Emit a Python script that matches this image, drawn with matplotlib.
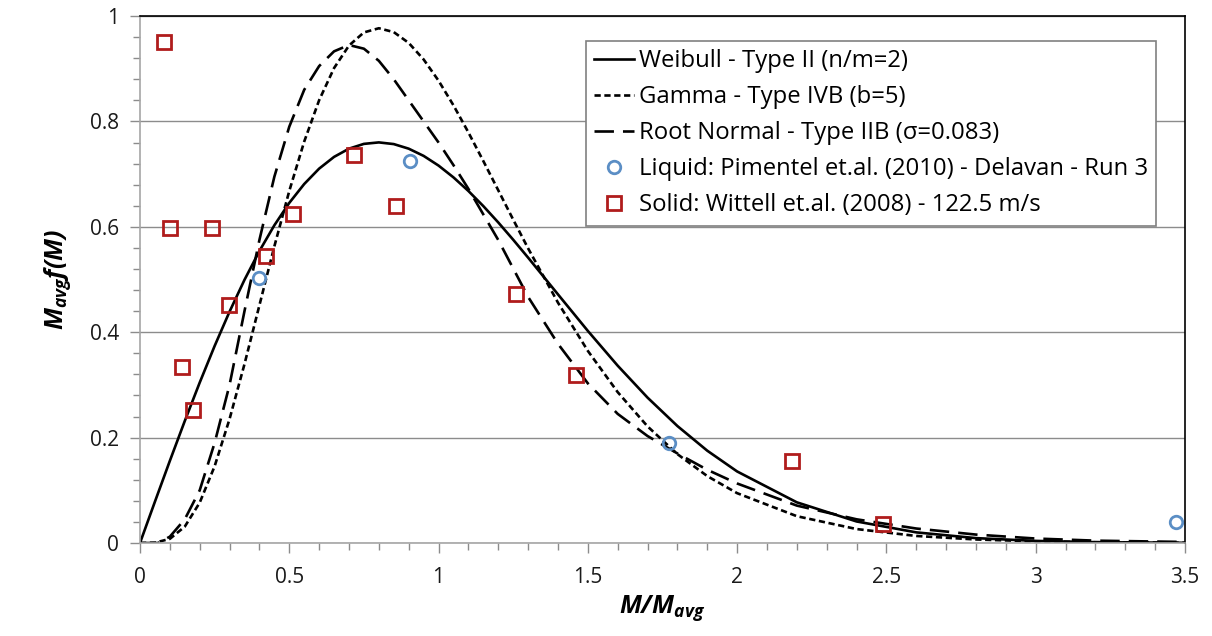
import matplotlib
matplotlib.use('Agg')
import matplotlib.pyplot as plt
from matplotlib.ticker import MultipleLocator

plt.rcParams['font.family'] = ['Open Sans', 'DejaVu Sans']
plt.rcParams['mathtext.fontset'] = 'custom'
plt.rcParams['mathtext.bfit'] = 'Open Sans:bold:italic'
plt.rcParams['mathtext.it'] = 'Open Sans:italic'
plt.rcParams['mathtext.rm'] = 'Open Sans'
plt.rcParams['lines.scale_dashes'] = False

# model curves (x = M/Mavg, y = Mavg f(M))
x_fit = [0, 0.05, 0.1, 0.15, 0.2, 0.25, 0.3, 0.35, 0.4, 0.45, 0.5, 0.55, 0.6, 0.65,
         0.7, 0.75, 0.8, 0.85, 0.9, 0.95, 1.0, 1.05, 1.1, 1.15, 1.2, 1.25, 1.3, 1.4,
         1.5, 1.6, 1.7, 1.8, 1.9, 2.0, 2.2, 2.4, 2.6, 2.8, 3.0, 3.2, 3.5]
weibull = [0, 0.0784, 0.1559, 0.2315, 0.3044, 0.3739, 0.4391, 0.4994, 0.5541, 0.6029,
           0.6454, 0.6812, 0.7104, 0.7327, 0.7483, 0.7574, 0.7602, 0.7570, 0.7483, 0.7346,
           0.7162, 0.6938, 0.6680, 0.6393, 0.6083, 0.5755, 0.5415, 0.4718, 0.4025, 0.3365,
           0.2759, 0.2220, 0.1752, 0.1358, 0.0772, 0.0409, 0.0202, 0.0093, 0.0040, 0.0016,
           0.0004]
gamma = [0, 0.0006, 0.0079, 0.0311, 0.0766, 0.1457, 0.2353, 0.3395, 0.4511, 0.5628,
         0.6680, 0.7617, 0.8402, 0.9012, 0.9440, 0.9689, 0.9768, 0.9695, 0.9490, 0.9176,
         0.8773, 0.8305, 0.7791, 0.7248, 0.6693, 0.6137, 0.5591, 0.4561, 0.3646, 0.2863,
         0.2213, 0.1687, 0.1270, 0.0946, 0.0509, 0.0265, 0.0134, 0.0067, 0.0032, 0.0015,
         0.0005]

x_rn = [0, 0.06, 0.1, 0.15, 0.2, 0.25, 0.3, 0.35, 0.4, 0.45, 0.5, 0.55, 0.6, 0.65, 0.7,
        0.75, 0.8, 0.85, 0.9, 0.95, 1.0, 1.05, 1.1, 1.2, 1.3, 1.4, 1.5, 1.6, 1.7, 1.8,
        1.9, 2.0, 2.2, 2.4, 2.6, 2.8, 3.0, 3.2, 3.5]
root_normal = [0, 0, 0.012, 0.045, 0.10, 0.19, 0.30, 0.44, 0.575, 0.695, 0.79, 0.86,
               0.905, 0.933, 0.945, 0.938, 0.915, 0.88, 0.84, 0.80, 0.76, 0.717, 0.672,
               0.575, 0.467, 0.378, 0.303, 0.245, 0.203, 0.170, 0.139, 0.113, 0.071,
               0.045, 0.0275, 0.016, 0.0085, 0.0045, 0.002]

# measurements
liquid_x = [0.400, 0.904, 1.773, 3.47]
liquid_y = [0.502, 0.724, 0.190, 0.040]

solid_x = [0.079, 0.100, 0.140, 0.177, 0.242, 0.298, 0.422, 0.511, 0.717, 0.856,
           1.261, 1.460, 2.183, 2.487]
solid_y = [0.951, 0.597, 0.334, 0.253, 0.597, 0.452, 0.545, 0.624, 0.736, 0.640,
           0.473, 0.319, 0.156, 0.037]

labels = ['Weibull - Type II (n/m=2)', 'Gamma - Type IVB (b=5)',
          'Root Normal - Type IIB (\u03c3=0.083)',
          'Liquid: Pimentel et.al. (2010) - Delavan - Run 3',
          'Solid: Wittell et.al. (2008) - 122.5 m/s']

xticks = [0, 0.5, 1, 1.5, 2, 2.5, 3, 3.5]
xticklabels = ['0', '0.5', '1', '1.5', '2', '2.5', '3', '3.5']
yticks = [0, 0.2, 0.4, 0.6, 0.8, 1.0]
yticklabels = ['0', '0.2', '0.4', '0.6', '0.8', '1']

fig = plt.figure(figsize=(12.12, 6.36), dpi=100)
ax = fig.add_axes([0.1155, 0.1462, 0.8622, 0.8286])

ax.plot(x_fit, weibull, color='black', lw=1.9, label=labels[0])
ax.plot(x_fit, gamma, color='black', lw=1.9, dashes=(4.5, 2.6), label=labels[1])
ax.plot(x_rn, root_normal, color='black', lw=1.9, dashes=(14, 6.5), label=labels[2])
ax.plot(liquid_x, liquid_y, ls='none', marker='o', ms=9, mfc='none', mec='#5b8ec5',
        mew=2, label=labels[3])
ax.plot(solid_x, solid_y, ls='none', marker='s', ms=10, mfc='none', mec='#b01c1c',
        mew=2, label=labels[4])

ax.set_xlim(0, 3.5)
ax.set_ylim(0, 1)
ax.set_xticks(xticks)
ax.set_xticklabels(xticklabels)
ax.set_yticks(yticks)
ax.set_yticklabels(yticklabels)
ax.xaxis.set_minor_locator(MultipleLocator(0.1))
ax.yaxis.set_minor_locator(MultipleLocator(0.04))

ax.grid(axis='y', which='major', color='#8c8c8c', lw=1)
ax.tick_params(which='both', direction='out', colors='#8c8c8c', labelcolor='#1a1a1a',
               labelsize=15)
ax.tick_params(which='major', length=7, width=1)
ax.tick_params(which='minor', length=5, width=1)
ax.tick_params(axis='x', pad=10)
ax.tick_params(axis='y', pad=8)
for s in ['left', 'bottom']:
    ax.spines[s].set_color('#a6a6a6')
    ax.spines[s].set_linewidth(1.2)
for s in ['top', 'right']:
    ax.spines[s].set_color('black')
    ax.spines[s].set_linewidth(1.2)

ax.set_xlabel(r'$\mathbfit{M/M_{avg}}$', fontsize=18, labelpad=4)
ax.set_ylabel(r'$\mathbfit{M_{avg}f(M)}$', fontsize=18, labelpad=12)

leg = ax.legend(loc='upper left', bbox_to_anchor=(0.4268, 0.9526), borderaxespad=0,
                fontsize=17.2, frameon=True, fancybox=False, framealpha=1,
                edgecolor='#808080', handlelength=1.65, handletextpad=0.2,
                labelspacing=0.5, borderpad=0.35)
leg.get_frame().set_linewidth(1.2)

fig.savefig('out.png', dpi=100)
